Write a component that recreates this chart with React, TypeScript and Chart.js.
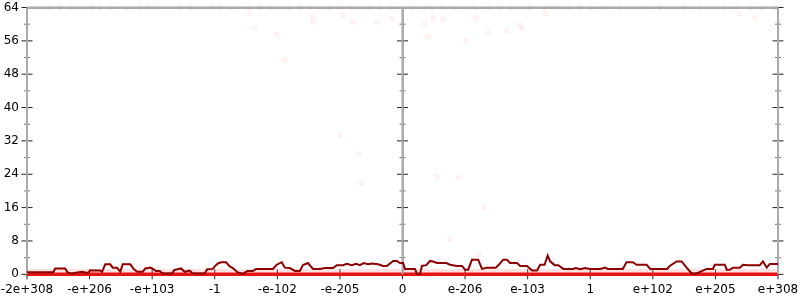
import React, { useEffect, useRef } from "react";
import { Chart, registerables } from "chart.js";

Chart.register(...registerables);

// x positions are in "tick slots": -6 .. 6, each integer is a labelled tick
const X_TICK_LABELS = [
  "-2e+308", "-e+206", "-e+103", "-1", "-e-102", "-e-205", "0",
  "e-206", "e-103", "1", "e+102", "e+205", "e+308",
];
const X_TICK_POS = [-6, -5, -4, -3, -2, -1, 0, 1, 2, 3, 4, 5, 6];
const X_MIN = -6;
const X_MAX = 6;
const Y_MIN = 0;
const Y_MAX = 64;
const AXIS_COLUMNS = [-6, 0, 6]; // left border, zero axis, right border
const Y_TICKS_MAJOR = [0, 8, 16, 24, 32, 40, 48, 56, 64];
const Y_TICKS_MINOR = [4, 12, 20, 28, 36, 44, 52, 60];

// moving average line (dark red)
const AVG_X = [
  -6.0, -5.58, -5.55, -5.39, -5.35, -5.28, -5.22, -5.12, -5.03, -4.99, -4.83, -4.8, -4.75, -4.67,
  -4.63, -4.56, -4.51, -4.47, -4.35, -4.29, -4.24, -4.15, -4.11, -4.03, -4.0, -3.94, -3.88, -3.83,
  -3.68, -3.65, -3.54, -3.48, -3.4, -3.35, -3.16, -3.12, -3.03, -3.0, -2.95, -2.9, -2.82, -2.76,
  -2.71, -2.64, -2.55, -2.48, -2.39, -2.34, -2.07, -2.01, -1.93, -1.88, -1.8, -1.72, -1.64, -1.59,
  -1.51, -1.43, -1.32, -1.24, -1.11, -1.05, -0.95, -0.89, -0.81, -0.74, -0.68, -0.62, -0.55, -0.49,
  -0.39, -0.31, -0.25, -0.15, -0.09, -0.04, 0.01, 0.04, 0.15, 0.2, 0.23, 0.28, 0.31, 0.38, 0.44,
  0.5, 0.55, 0.7, 0.76, 0.87, 0.95, 1.0, 1.05, 1.11, 1.21, 1.27, 1.35, 1.49, 1.54, 1.61, 1.67,
  1.72, 1.83, 1.88, 1.99, 2.07, 2.15, 2.2, 2.27, 2.32, 2.36, 2.43, 2.49, 2.57, 2.72, 2.77, 2.84,
  2.92, 2.99, 3.16, 3.24, 3.28, 3.52, 3.58, 3.68, 3.74, 3.9, 3.96, 4.23, 4.27, 4.38, 4.46, 4.54,
  4.62, 4.7, 4.79, 4.86, 4.96, 4.99, 5.15, 5.18, 5.23, 5.28, 5.39, 5.44, 5.52, 5.71, 5.76, 5.82,
  5.87, 6.0,
];
const AVG_Y = [
  0.5, 0.5, 1.4, 1.4, 0.4, 0.2, 0.4, 0.6, 0.3, 0.9, 0.9, 0.6, 2.4, 2.4,
  1.6, 1.6, 0.6, 2.4, 2.4, 1.2, 0.6, 0.6, 1.4, 1.6, 1.4, 0.8, 0.8, 0.2,
  0.2, 1.0, 1.4, 0.6, 0.9, 0.2, 0.2, 1.2, 1.3, 1.9, 2.6, 2.9, 2.9, 1.9,
  1.5, 0.5, 0.1, 0.8, 0.8, 1.3, 1.3, 2.3, 2.9, 1.6, 1.5, 0.8, 0.8, 2.2,
  2.7, 1.3, 1.3, 1.5, 1.5, 2.2, 2.2, 2.5, 2.2, 2.5, 2.2, 2.7, 2.4, 2.6,
  2.4, 2.0, 2.0, 3.2, 3.2, 2.7, 2.7, 1.3, 1.3, 1.3, 0.1, 0.1, 2.0, 2.2, 3.2,
  3.0, 2.7, 2.7, 2.3, 2.0, 2.0, 1.1, 1.1, 3.5, 3.5, 1.3, 1.6, 1.6, 2.3, 3.5, 3.5,
  2.7, 2.7, 2.0, 2.0, 0.9, 0.9, 2.3, 2.3, 4.5, 3.1, 2.2, 2.2, 1.3, 1.3, 1.5, 1.2,
  1.5, 1.3, 1.3, 1.6, 1.3, 1.3, 2.9, 2.9, 2.3, 2.3, 1.3, 1.3, 2.0, 3.1, 3.1, 1.6,
  0.2, 0.2, 0.8, 1.3, 1.3, 2.3, 2.3, 1.1, 1.1, 1.6, 1.6, 2.3, 2.2, 2.2, 3.1, 1.6,
  2.5, 2.5,
];

// individual samples that are not zero (faint dots)
const SAMPLE_TOP_X = [
  -5.79, -5.63, -5.47, -5.31, -5.15, -4.95, -4.83, -4.67, -4.4, -4.19, -4.08, -3.92, -3.56, -3.4,
  -3.24, -3.03, -2.92, -2.76, -2.44, -2.28, -2.12, -1.96, -1.8, -1.64, -1.48, -1.32, -1.16, -1.0,
  -0.84, -0.68, -0.52, -0.36, -0.2, 0.15, 0.36, 0.47, 0.63, 0.84, 1.03, 1.15, 1.4, 1.56, 1.72,
  1.88, 2.04, 2.28, 2.4, 2.52, 2.68, 2.84, 3.0, 3.24, 3.48, 3.67, 3.88, 4.11, 4.31, 4.51, 4.75,
  4.95, 5.15, 5.36, 5.55, 5.75, 5.95,
];
const SAMPLE_TOP_Y = 64;
const SAMPLE_MID_X = [
  -2.44, -1.43, -1.43, -0.95, -0.79, -0.41, -0.17, -2.36, -2.01, -1.88, -1.0, -0.7, -0.65, 0.36,
  0.49, 0.65, 0.41, 1.01, 1.37, 1.67, 1.88, 1.91, 1.17, 2.29, 0.55, 0.9, 1.3, 0.76, 1.22, 5.39, 5.63,
];
const SAMPLE_MID_Y = [
  62.7, 62, 60.5, 62.2, 60.5, 60.5, 61.3, 59.3, 57.5, 51.5, 33.4, 28.9, 21.9, 60.1,
  61.5, 61.3, 57, 56, 57.9, 58.4, 59.8, 59, 61.5, 62.5, 23.4, 23.2, 16.1, 8.4, 4.6, 62.5, 61.5,
];
// dense bands of samples at 0 and around 1
const BAND_X = [-6, 6];
const ZERO_BAND_Y = [0, 0];
const LOW_BAND_Y = [0.8, 0.8];

const FONT = { family: "'DejaVu Sans', sans-serif", size: 12 };
const FRAME_COLOR = "#aaaaaa";
const NOCLIP = false as any;

function segment(points: { x: number; y: number }[]) {
  return {
    type: "line" as const,
    label: "frame",
    data: points,
    borderColor: FRAME_COLOR,
    backgroundColor: FRAME_COLOR,
    borderWidth: 2,
    pointRadius: 0,
    fill: false,
    order: 2,
    clip: NOCLIP,
  };
}

function tickMarks(points: { x: number; y: number }[], radius: number, color: string, rotation: number) {
  return {
    type: "scatter" as const,
    label: "ticks",
    data: points,
    pointStyle: "line" as const,
    pointRadius: radius,
    pointRotation: rotation,
    pointBorderColor: color,
    pointBackgroundColor: color,
    pointBorderWidth: 1,
    showLine: false,
    order: 9,
    clip: NOCLIP,
  };
}

export default function App() {
  const ref = useRef<HTMLCanvasElement | null>(null);
  useEffect(() => {
    if (!ref.current) return;
    const dotStyle = {
      type: "scatter" as const,
      pointRadius: 2.3,
      pointBackgroundColor: "rgba(255,0,0,0.035)",
      pointBorderColor: "rgba(255,0,0,0.07)",
      pointBorderWidth: 1,
      showLine: false,
      order: 5,
      clip: NOCLIP,
    };
    const majorPts = AXIS_COLUMNS.flatMap((cx) => Y_TICKS_MAJOR.map((v) => ({ x: cx, y: v })));
    const minorPts = AXIS_COLUMNS.flatMap((cx) => Y_TICKS_MINOR.map((v) => ({ x: cx, y: v })));
    const xTickPts = X_TICK_POS.map((p) => ({ x: p, y: Y_MIN }));
    const chart = new Chart(ref.current, {
      type: "line",
      data: {
        datasets: [
          segment([{ x: X_MIN, y: Y_MAX }, { x: X_MAX, y: Y_MAX }]),
          ...AXIS_COLUMNS.map((cx) => segment([{ x: cx, y: Y_MIN }, { x: cx, y: Y_MAX }])),
          tickMarks(majorPts, 5.5, "#222", 0),
          tickMarks(minorPts, 3, "#777", 0),
          tickMarks(xTickPts, 5, "#222", 90),
          {
            ...dotStyle,
            label: "samples top",
            data: SAMPLE_TOP_X.map((x) => ({ x, y: SAMPLE_TOP_Y })),
          },
          {
            ...dotStyle,
            label: "samples",
            data: SAMPLE_MID_X.map((x, i) => ({ x, y: SAMPLE_MID_Y[i] })),
          },
          {
            label: "low band",
            data: BAND_X.map((x, i) => ({ x, y: LOW_BAND_Y[i] })),
            borderColor: "rgba(255,120,120,0.22)",
            borderWidth: 4,
            pointRadius: 0,
            order: 4,
            clip: NOCLIP,
          },
          {
            label: "zero band",
            data: BAND_X.map((x, i) => ({ x, y: ZERO_BAND_Y[i] })),
            borderColor: "rgba(232,20,20,1)",
            borderWidth: 3.5,
            pointRadius: 0,
            order: 3,
            clip: NOCLIP,
          },
          {
            label: "average",
            data: AVG_X.map((x, i) => ({ x, y: AVG_Y[i] })),
            borderColor: "rgb(140,0,0)",
            borderWidth: 2,
            pointRadius: 0,
            tension: 0,
            order: 1,
            clip: NOCLIP,
          },
        ],
      },
      options: {
        animation: false,
        responsive: false,
        events: [],
        layout: { padding: { left: 0, right: 22, top: 7.5, bottom: 0 } },
        plugins: { legend: { display: false }, tooltip: { enabled: false } },
        scales: {
          x: {
            type: "linear",
            min: X_MIN,
            max: X_MAX,
            grid: {
              display: true,
              drawTicks: false,
              drawOnChartArea: true,
              lineWidth: 2,
              color: (c: any) => (c.tick && c.tick.value === 0 ? FRAME_COLOR : "rgba(0,0,0,0)"),
            },
            border: { display: true, color: FRAME_COLOR, width: 2 },
            ticks: {
              stepSize: 1,
              autoSkip: false,
              maxRotation: 0,
              padding: 8,
              color: "#000",
              font: FONT,
              callback: (v: any) => X_TICK_LABELS[X_TICK_POS.indexOf(Math.round(Number(v)))] ?? "",
            },
            afterFit: (s: any) => {
              s.height = 25.7;
              s.paddingLeft = 0;
              s.paddingRight = 0;
            },
          },
          x2: {
            type: "linear",
            position: "top",
            min: X_MIN,
            max: X_MAX,
            grid: { display: false, drawTicks: false },
            border: { display: true, color: FRAME_COLOR, width: 2 },
            ticks: { display: false },
            afterFit: (s: any) => {
              s.height = 0;
              s.paddingLeft = 0;
              s.paddingRight = 0;
            },
          },
          y: {
            type: "linear",
            min: Y_MIN,
            max: Y_MAX,
            grid: { display: false, drawTicks: false },
            border: { display: true, color: FRAME_COLOR, width: 2 },
            ticks: { stepSize: 8, padding: 8, color: "#000", font: FONT },
            afterFit: (s: any) => {
              s.width = 27;
              s.paddingTop = 0;
              s.paddingBottom = 0;
            },
          },
          y2: {
            type: "linear",
            position: "right",
            min: Y_MIN,
            max: Y_MAX,
            grid: { display: false, drawTicks: false },
            border: { display: true, color: FRAME_COLOR, width: 2 },
            ticks: { display: false },
            afterFit: (s: any) => {
              s.width = 0;
              s.paddingTop = 0;
              s.paddingBottom = 0;
            },
          },
        },
      },
    });
    return () => chart.destroy();
  }, []);
  return (
    <div style={{ position: "absolute", left: 0, top: 0, width: 800, height: 300 }}>
      <canvas ref={ref} width={800} height={300} style={{ display: "block" }} />
    </div>
  );
}
